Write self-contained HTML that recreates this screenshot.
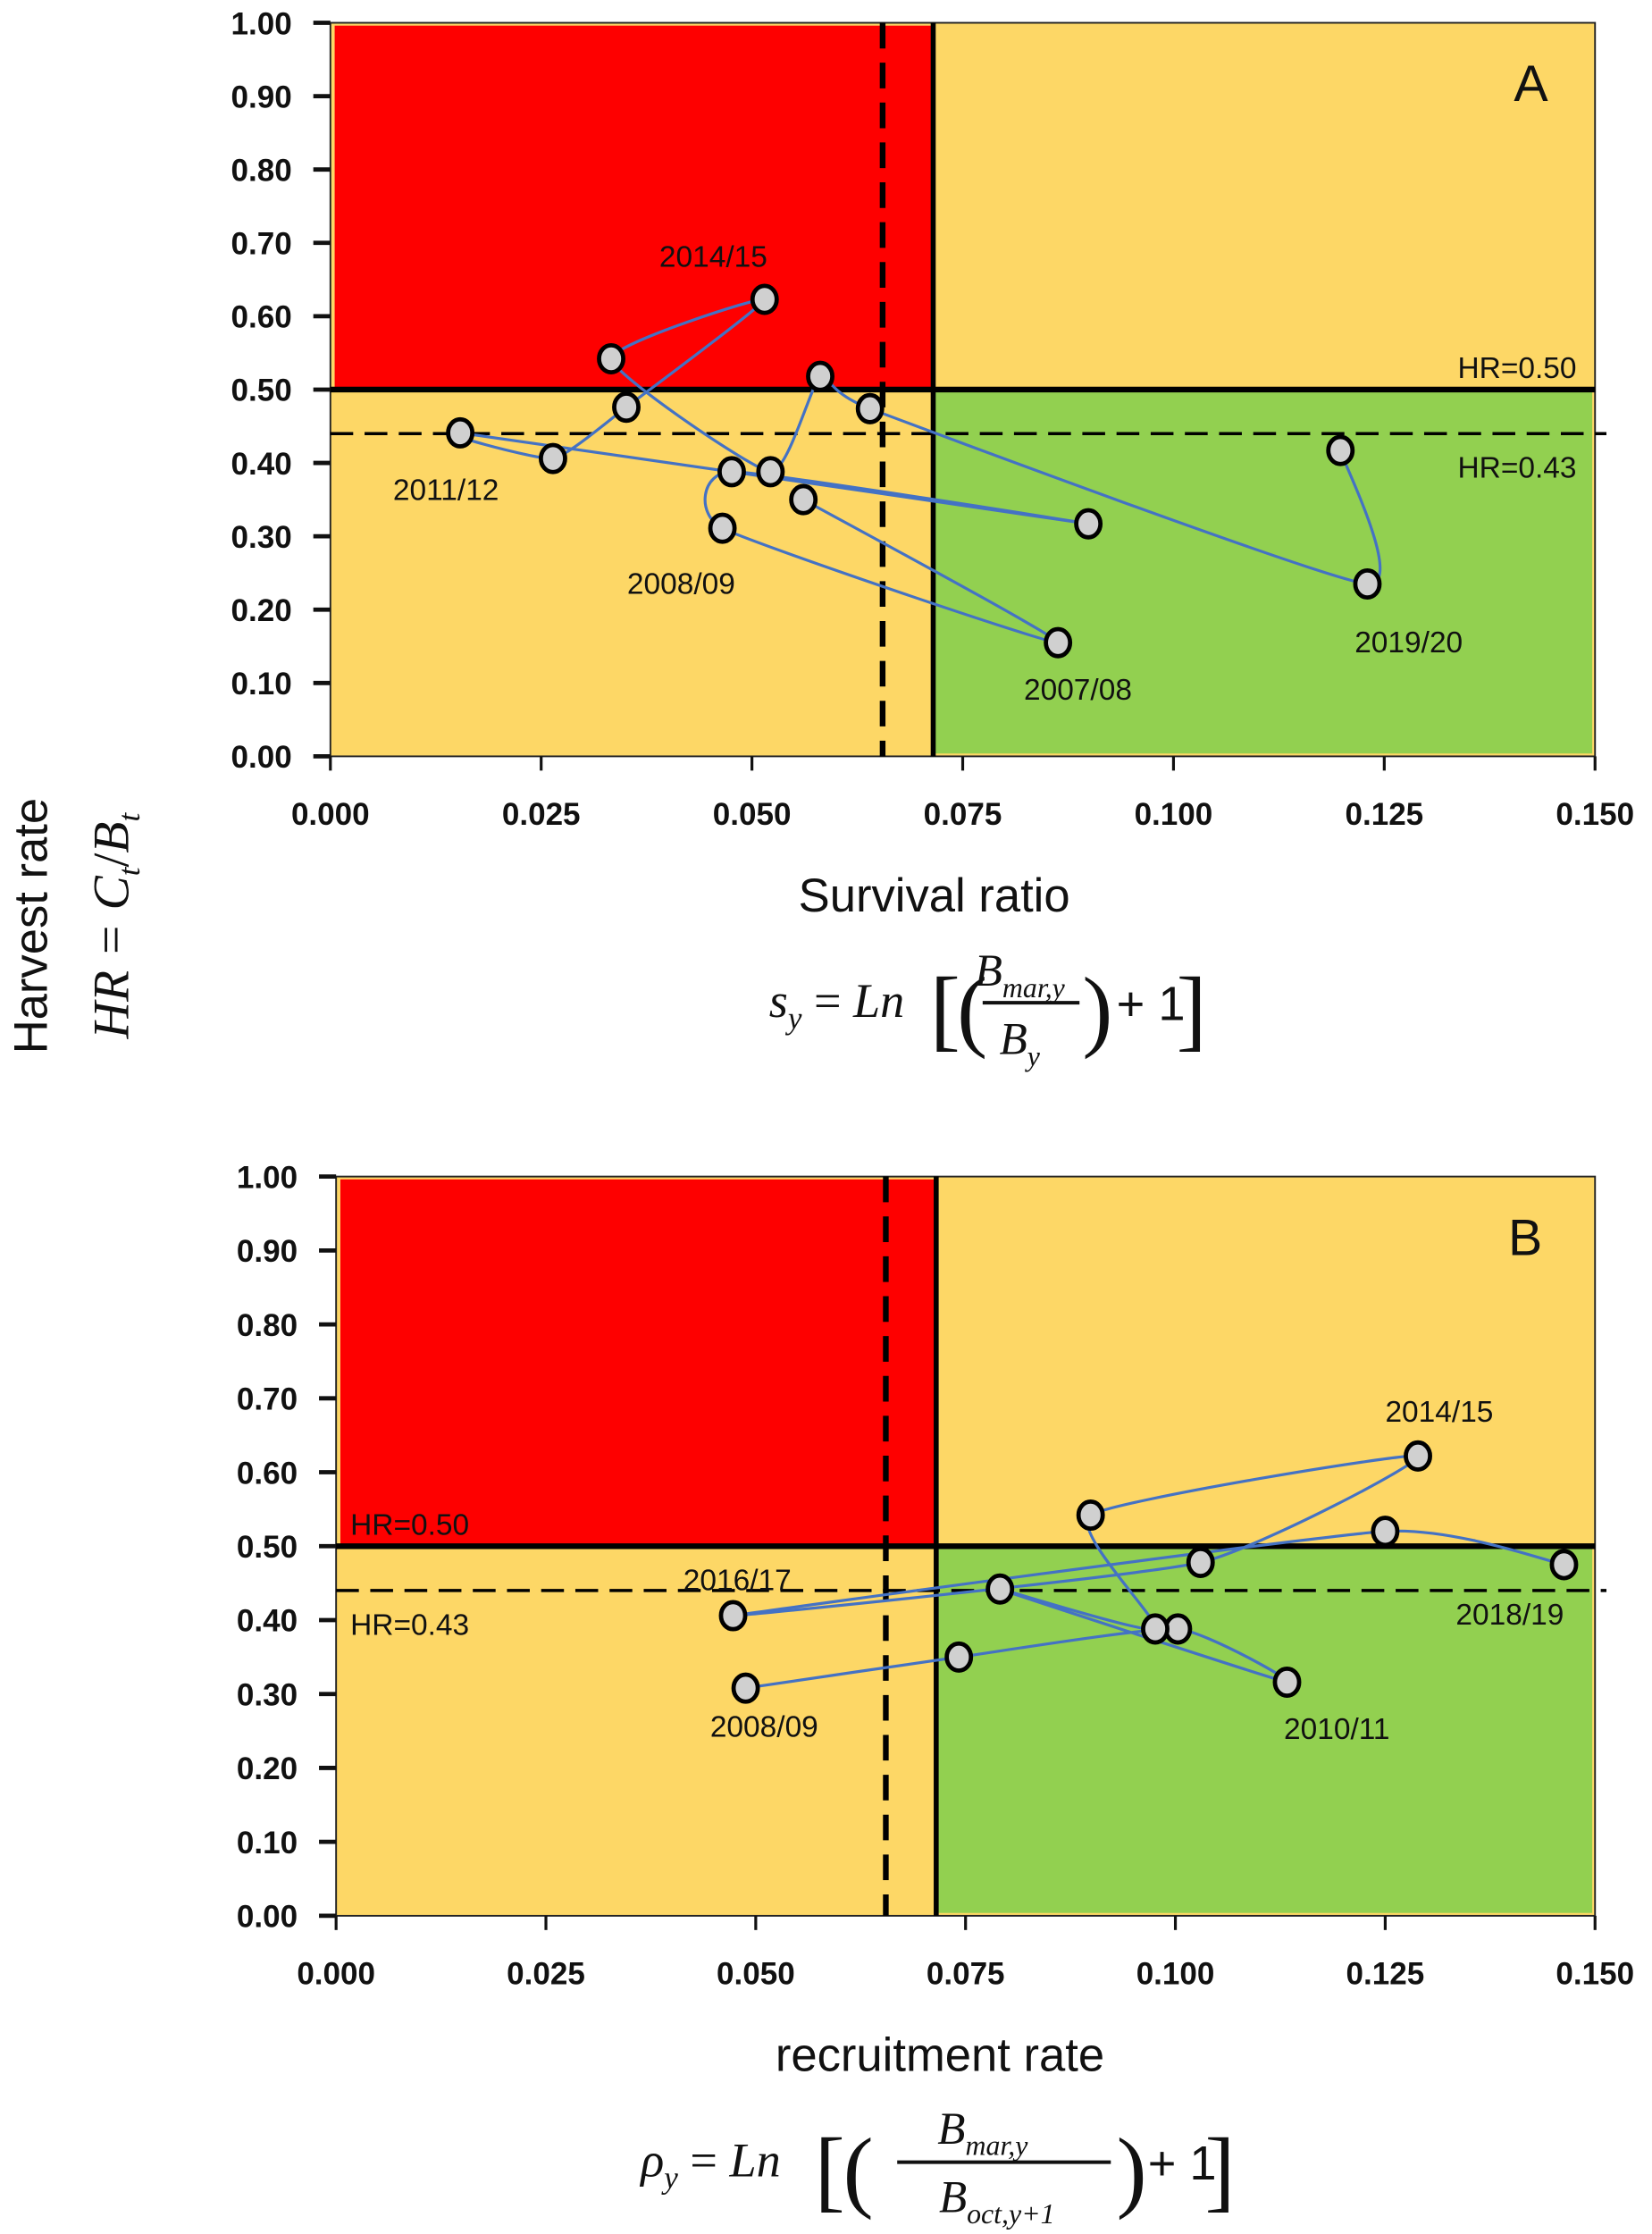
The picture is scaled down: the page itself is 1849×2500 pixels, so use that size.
<!DOCTYPE html>
<html><head><meta charset="utf-8"><style>
html,body{margin:0;padding:0;background:#fff}
svg{display:block}
text{font-family:"Liberation Sans",sans-serif}
.tk{font-size:22px;font-weight:bold;fill:#111}
.an{font-size:21px;fill:#111}
.ttl{font-size:33px;fill:#111}
.mth{font-family:"Liberation Serif",serif;font-style:italic;fill:#111}
.br{font-family:"Liberation Serif",serif;fill:#111;font-size:64px}
</style></head><body>
<svg id="chart" width="1849" height="2500" viewBox="0 0 1160 1568.4" xmlns="http://www.w3.org/2000/svg">
<g id="panelA"></g>
<g id="panelB"></g>
<g>
<text class="ttl" transform="translate(33,650) rotate(-90)" text-anchor="middle" font-size="36">Harvest rate</text>
<text class="mth" transform="translate(90,650) rotate(-90)" text-anchor="middle" font-size="36">HR = C<tspan font-size="22" dy="8">t</tspan><tspan dy="-8" font-style="normal">/</tspan>B<tspan font-size="22" dy="8">t</tspan></text>
</g>
<g>
<text class="ttl" x="656" y="640" text-anchor="middle">Survival ratio</text>
<text class="mth" x="540" y="714" font-size="34">s<tspan font-size="22" dy="8">y</tspan><tspan dy="-8" font-style="normal"> = </tspan>Ln</text>
<text class="br" x="653" y="730">[</text>
<text class="br" x="672" y="730">(</text>
<text class="mth" x="716" y="692" font-size="32" text-anchor="middle">B<tspan font-size="20" dy="8">mar,y</tspan></text>
<line x1="690" y1="704" x2="758" y2="704" stroke="#111" stroke-width="2.5"/>
<text class="mth" x="716" y="740" font-size="32" text-anchor="middle">B<tspan font-size="20" dy="8">y</tspan></text>
<text class="br" x="760" y="730">)</text>
<text x="784" y="716" font-size="34" font-family="Liberation Serif" fill="#111">+ 1</text>
<text class="br" x="826" y="730">]</text>
</g>
<g>
<text class="ttl" x="660" y="1454" text-anchor="middle">recruitment rate</text>
<text class="mth" x="450" y="1528" font-size="34">ρ<tspan font-size="22" dy="8">y</tspan><tspan dy="-8" font-style="normal"> = </tspan>Ln</text>
<text class="br" x="572" y="1545">[</text>
<text class="br" x="592" y="1545">(</text>
<text class="mth" x="690" y="1505" font-size="32" text-anchor="middle">B<tspan font-size="20" dy="8">mar,y</tspan></text>
<line x1="630" y1="1518" x2="780" y2="1518" stroke="#111" stroke-width="2.5"/>
<text class="mth" x="700" y="1553" font-size="32" text-anchor="middle">B<tspan font-size="20" dy="8">oct,y+1</tspan></text>
<text class="br" x="784" y="1545">)</text>
<text x="806" y="1530" font-size="34" font-family="Liberation Serif" fill="#111">+ 1</text>
<text class="br" x="846" y="1545">]</text>
</g>
</svg>
<script>
const xTicks=[0,0.025,0.05,0.075,0.1,0.125,0.15];
const yTicks=[0,0.1,0.2,0.3,0.4,0.5,0.6,0.7,0.8,0.9,1.0];
const aX=[0.0561,0.0863,0.0465,0.0476,0.0899,0.0154,0.0264,0.0351,0.0515,0.0333,0.0522,0.0581,0.0640,0.1230,0.1198];
const aY=[0.350,0.155,0.311,0.388,0.317,0.441,0.406,0.476,0.623,0.542,0.388,0.518,0.474,0.235,0.417];
const aLabels=[["2007/08",1],["2008/09",2],["2011/12",5],["2014/15",8],["2019/20",13]];
const bX=[0.0488,0.0742,0.1003,0.1133,0.0791,0.0976,0.0899,0.1289,0.1030,0.0473,0.1250,0.1463];
const bY=[0.308,0.350,0.388,0.316,0.442,0.388,0.542,0.622,0.478,0.406,0.520,0.475];
const bLabels=[["2008/09",0],["2010/11",3],["2014/15",7],["2016/17",9],["2018/19",11]];
const NS="http://www.w3.org/2000/svg";
function mk(p,t,a){const e=document.createElementNS(NS,t);for(const k in a)e.setAttribute(k,a[k]);p.appendChild(e);return e;}
function panel(g,L,R,T,B,xs,ys,labels,lblOff,opts){
 const sx=v=>L+v/0.15*(R-L), sy=v=>B-v*(B-T);
 const r=mk(g,'rect',{x:L,y:T,width:R-L,height:B-T,fill:'#fdd766',stroke:'#222','stroke-width':1.2});
 
 
 const red=mk(g,'rect',{x:L+3,y:sy(1)+2,width:sx(0.0715)-L-3,height:sy(0.5)-sy(1)-2,fill:'#fe0000'});
 
 
 const gr=mk(g,'rect',{x:sx(0.0715),y:sy(0.5),width:R-sx(0.0715)-2,height:B-sy(0.5)-2,fill:'#92d050'});
 
 
 yTicks.forEach(v=>{mk(g,'line',{x1:L-12,x2:L,y1:sy(v),y2:sy(v),stroke:'#111','stroke-width':3});
  const t=mk(g,'text',{x:L-27,y:sy(v)+8,'text-anchor':'end',class:'tk'});t.textContent=v.toFixed(2);
  
  });
 xTicks.forEach(v=>{mk(g,'line',{x1:sx(v),x2:sx(v),y1:B,y2:B+10,stroke:'#111','stroke-width':2});
  const t=mk(g,'text',{x:sx(v),y:B+48,'text-anchor':'middle',class:'tk'});t.textContent=v.toFixed(3);
  
  });
 const vd=mk(g,'line',{x1:sx(0.0655),x2:sx(0.0655),y1:T,y2:B,stroke:'#000','stroke-width':4,'stroke-dasharray':'18,10'});
 
 
 const vs=mk(g,'line',{x1:sx(0.0715),x2:sx(0.0715),y1:T,y2:B,stroke:'#000','stroke-width':3.5});
 
 
 const h5=mk(g,'line',{x1:L,x2:R,y1:sy(0.5),y2:sy(0.5),stroke:'#000','stroke-width':4});
 
 
 const h4=mk(g,'line',{x1:L,x2:R+8,y1:sy(0.44),y2:sy(0.44),stroke:'#000','stroke-width':2.2,'stroke-dasharray':'16,8'});
 
 
 const P=xs.map((v,i)=>[sx(v),sy(ys[i])]);
 let d='M'+P[0][0]+','+P[0][1];
 const k=12;
 for(let i=0;i<P.length-1;i++){const p0=P[Math.max(i-1,0)],p1=P[i],p2=P[i+1],p3=P[Math.min(i+2,P.length-1)];
  d+=' C'+(p1[0]+(p2[0]-p0[0])/k)+','+(p1[1]+(p2[1]-p0[1])/k)+' '+(p2[0]-(p3[0]-p1[0])/k)+','+(p2[1]-(p3[1]-p1[1])/k)+' '+p2[0]+','+p2[1];}
 const ln=mk(g,'path',{d:d,fill:'none',stroke:'#4472c4','stroke-width':2});
 
 
 P.forEach(p=>{const c=mk(g,'ellipse',{cx:p[0],cy:p[1],rx:8.5,ry:9.5,fill:'#d0d0d0',stroke:'#000','stroke-width':3});
  
  });
 labels.forEach(([s,i],j)=>{const o=lblOff[j];const t=mk(g,'text',{x:P[i][0]+o[0],y:P[i][1]+o[1],'text-anchor':'middle',class:'an'});t.textContent=s;
  
  });
 const pl=mk(g,'text',{x:opts.px,y:T+55,'text-anchor':'middle','font-size':36,fill:'#111'});pl.textContent=opts.name;
 
 
 const t5=mk(g,'text',{x:opts.h5x,y:sy(0.5)-8,'text-anchor':opts.anc,class:'an'});t5.textContent='HR=0.50';
 
 
 const t4=mk(g,'text',{x:opts.h5x,y:sy(0.44)+31,'text-anchor':opts.anc,class:'an'});t4.textContent='HR=0.43';
 
 
}
panel(document.getElementById('panelA'),232,1120,16,531,aX,aY,aLabels,
 [[14,40],[-29,46],[-10,47],[-36,-23],[29,48]],{px:1075,name:'A',h5x:1107,anc:'end'});
panel(document.getElementById('panelB'),236,1120,826,1345,bX,bY,bLabels,
 [[13,34],[35,40],[15,-24],[3,-18],[-38,42]],{px:1071,name:'B',h5x:246,anc:'start'});
</script>
</body></html>
